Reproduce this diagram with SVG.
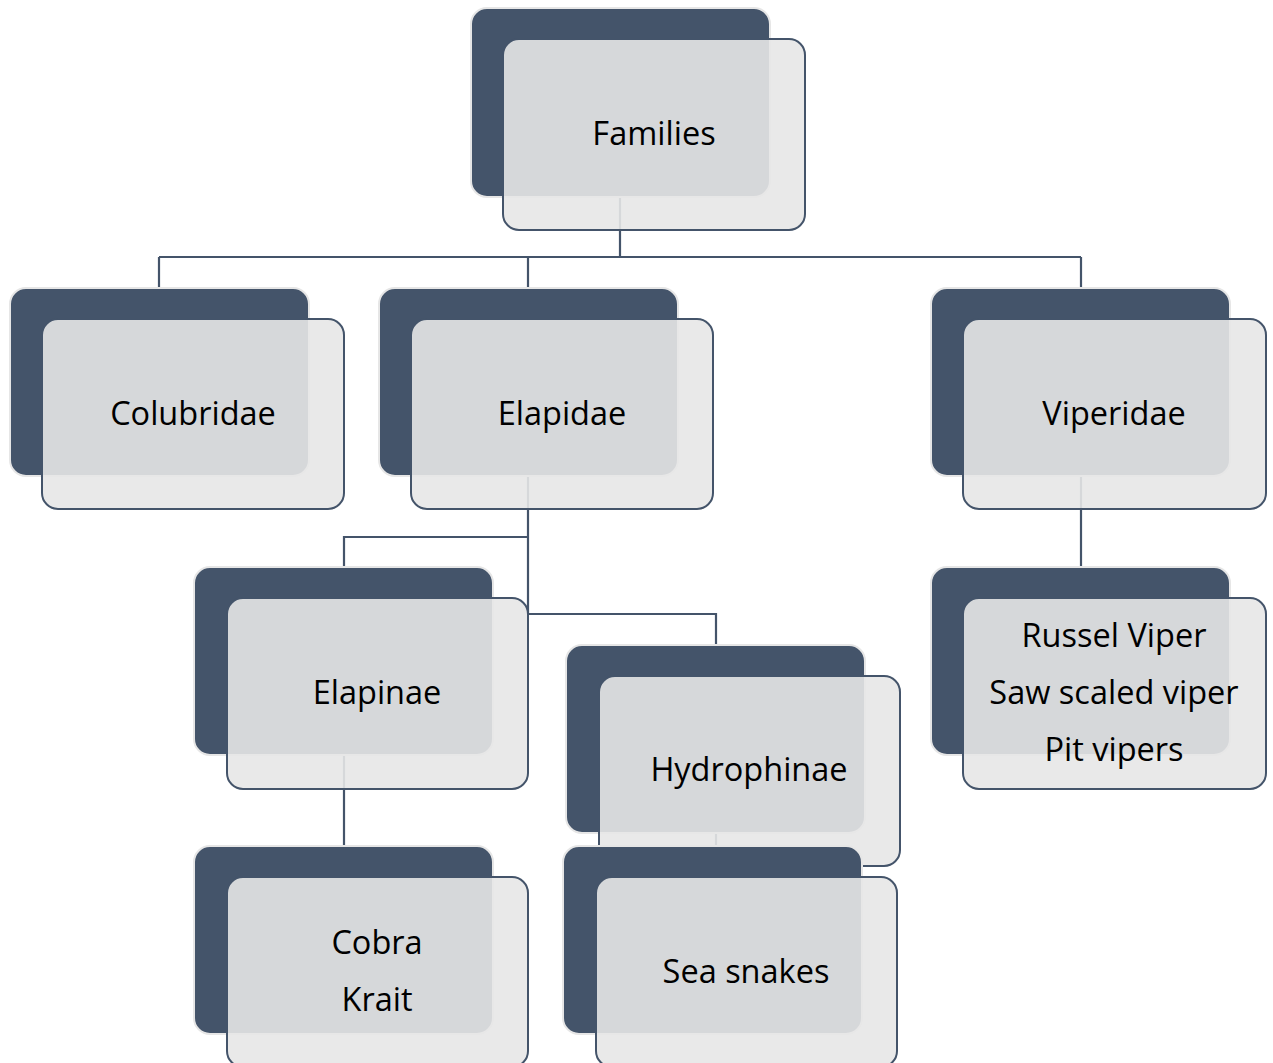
<svg xmlns="http://www.w3.org/2000/svg" width="1273" height="1063" viewBox="0 0 1273 1063">
<style>
.bk{fill:#44546A;stroke:#E6E6E6;stroke-width:2}
.fr{fill:#E7E7E7;fill-opacity:0.9;stroke:#44546A;stroke-width:2}
.c{fill:none;stroke:#44546A;stroke-width:2.2}
text{font-family:"Open Sans","Liberation Sans",sans-serif;font-size:32.5px;fill:#000;text-anchor:middle}
</style>
<rect width="1273" height="1063" fill="#FFFFFF"/>
<g id="connectors">
<path class="c" d="M620,198 V257 M159,257 H1081 M159,257 V288 M528,257 V288 M1081,257 V288"/>
<path class="c" d="M528,477 V614 M528,537 H344 V567 M528,614 H716 V645"/>
<path class="c" d="M1081,477 V567"/>
<path class="c" d="M344,756 V846"/>
<path class="c" d="M716,834 V846"/>
</g>
<g id="families">
<rect class="bk" x="471" y="8" width="299" height="189" rx="16"/>
<rect class="fr" x="503" y="39" width="302" height="191" rx="16"/>
<text x="654" y="145">Families</text>
</g>
<g id="colubridae">
<rect class="bk" x="10" y="288" width="299" height="188" rx="16"/>
<rect class="fr" x="42" y="319" width="302" height="190" rx="16"/>
<text x="193" y="425">Colubridae</text>
</g>
<g id="elapidae">
<rect class="bk" x="379" y="288" width="299" height="188" rx="16"/>
<rect class="fr" x="411" y="319" width="302" height="190" rx="16"/>
<text x="562" y="425">Elapidae</text>
</g>
<g id="viperidae">
<rect class="bk" x="931" y="288" width="299" height="188" rx="16"/>
<rect class="fr" x="963" y="319" width="303" height="190" rx="16"/>
<text x="1114" y="425">Viperidae</text>
</g>
<g id="elapinae">
<rect class="bk" x="194" y="567" width="299" height="188" rx="16"/>
<rect class="fr" x="227" y="598" width="301" height="191" rx="16"/>
<text x="377" y="704">Elapinae</text>
</g>
<g id="vipers">
<rect class="bk" x="931" y="567" width="299" height="188" rx="16"/>
<rect class="fr" x="963" y="598" width="303" height="191" rx="16"/>
<text x="1114" y="647">Russel Viper</text>
<text x="1114" y="704">Saw scaled viper</text>
<text x="1114" y="761">Pit vipers</text>
</g>
<g id="hydrophinae">
<rect class="bk" x="566" y="645" width="299" height="188" rx="16"/>
<rect class="fr" x="599" y="676" width="301" height="190" rx="16"/>
<text x="749" y="781">Hydrophinae</text>
</g>
<g id="cobra">
<rect class="bk" x="194" y="846" width="299" height="188" rx="16"/>
<rect class="fr" x="227" y="877" width="301" height="190" rx="16"/>
<text x="377" y="954">Cobra</text>
<text x="377" y="1011">Krait</text>
</g>
<g id="seasnakes">
<rect class="bk" x="563" y="846" width="299" height="188" rx="16"/>
<rect class="fr" x="596" y="877" width="301" height="190" rx="16"/>
<text x="746" y="983">Sea snakes</text>
</g>
</svg>
